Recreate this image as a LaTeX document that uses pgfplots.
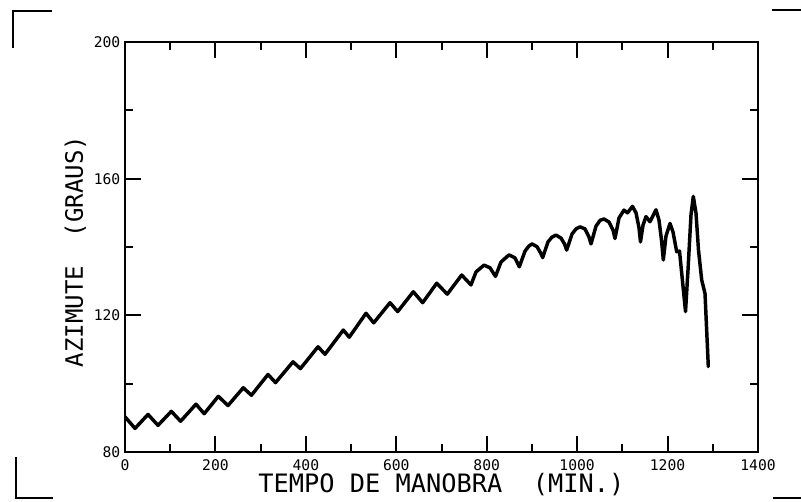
\documentclass[border=0pt]{standalone}
\usepackage{fontspec}
\setmainfont{DejaVu Sans Mono}
\usepackage{pgfplots}
\pgfplotsset{compat=1.18}
\begin{document}
\begin{tikzpicture}
\useasboundingbox (0,0) rectangle (600.75pt,375.75pt);
% scan frame corner marks
\draw[line width=1.6pt] (9.75pt,339.75pt) -- (9.75pt,367.5pt) -- (39pt,367.5pt);
\draw[line width=1.6pt] (12pt,33pt) -- (12pt,2.25pt) -- (39.75pt,2.25pt);
\draw[line width=1.6pt] (579pt,368.25pt) -- (600.75pt,368.25pt);
\draw[line width=1.6pt] (579.75pt,2.25pt) -- (600.75pt,2.25pt);
\begin{axis}[
  at={(93.75pt,36.75pt)}, anchor=south west,
  scale only axis, width=474.75pt, height=307.5pt,
  xmin=0, xmax=1400, ymin=80, ymax=200,
  xtick={0,200,...,1400}, minor xtick={100,300,...,1300},
  ytick={80,120,160,200}, minor ytick={100,140,180},
  tick align=inside, major tick length=12pt, minor tick length=6pt,
  axis line style={line width=1.5pt},
  every tick/.style={line width=1.5pt, black},
  /pgf/number format/assume math mode=true,
  /pgf/number format/1000 sep={},
  tick label style={font=\fontsize{11}{12}\selectfont},
  xticklabel style={yshift=-2.5pt},
  xlabel={TEMPO DE MANOBRA\ \ (MIN.)},
  ylabel={AZIMUTE\ \ (GRAUS)},
  xlabel style={at={(axis description cs:0.5,-0.0976)}, anchor=base, font=\fontsize{19}{22}\selectfont},
  ylabel style={at={(axis description cs:-0.0665,0.489)}, anchor=base, font=\fontsize{18}{21}\selectfont},
]
\addplot[black, line width=2.6pt, line join=round, line cap=round] coordinates {
(0,90.3) (22.1,86.9) (50.9,91.0) (73.0,87.8) (102.4,91.9) (123.0,89.0)
(157.0,94.0) (175.2,91.2) (206.4,96.3) (227.8,93.6) (261.6,98.8) (279.6,96.6)
(316.3,102.7) (332.9,100.3) (371.6,106.4) (387.9,104.4) (426.9,110.8) (442.3,108.6)
(482.8,115.7) (495.9,113.6) (533.0,120.6) (550.1,117.8) (586.1,123.7) (603.1,121.1)
(637.6,126.9) (658.4,123.7) (689.4,129.4) (712.8,126.2) (744.7,131.8) (765.2,128.9)
(776.3,132.7) (794.0,134.7) (807.3,133.9) (819.4,131.4)
(831.6,135.6) (849.3,137.7) (862.6,136.8) (872.1,134.2)
(884.7,138.8) (893.5,140.3) (900.2,140.9) (911.2,140.1) (919.4,138.2) (923.8,136.9)
(935.5,141.5) (944.4,142.9) (953.2,143.5) (964.3,142.6) (972.0,140.9) (976.9,139.1)
(988.6,143.8) (997.5,145.3) (1006.3,145.9) (1017.4,145.3) (1026.2,142.9) (1030.7,140.9)
(1041.7,146.1) (1050.6,147.8) (1059.4,148.2) (1070.5,147.3) (1079.3,145.0) (1083.7,142.5)
(1092.6,148.5) (1103.6,150.8) (1111.4,150.0) (1122.4,151.9) (1130.2,150.0) (1136.8,145.6) (1140.1,141.5)
(1145.7,146.4) (1152.3,148.9) (1161.1,147.4) (1174.4,150.9) (1181.0,147.9) (1186.6,142.0) (1190.6,136.2)
(1196.5,143.2) (1205.4,146.9) (1212.0,144.4) (1220.2,138.6) (1226.4,138.8) (1239.7,121.1)
(1245.2,133.3) (1251.8,149.4) (1256.9,154.8) (1262.9,149.9) (1268.4,139.1) (1275.5,130.3)
(1282.8,126.4) (1290.1,105.0)
};
\end{axis}
\end{tikzpicture}
\end{document}
